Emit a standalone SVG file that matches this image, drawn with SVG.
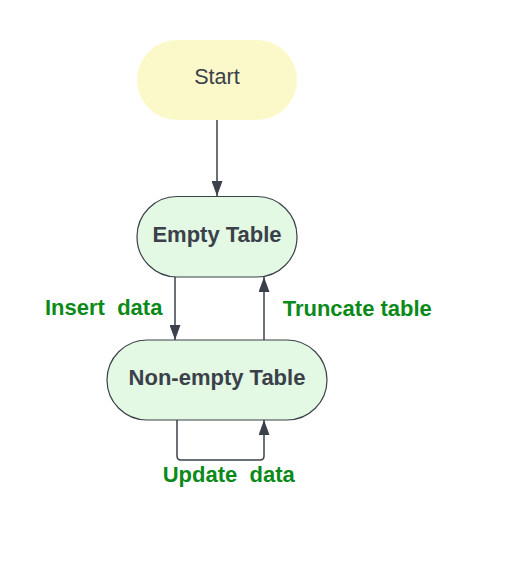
<svg xmlns="http://www.w3.org/2000/svg" width="517" height="561" viewBox="0 0 517 561">
<style>
.node{fill:#e3f9e3;stroke:#3a414a;stroke-width:1.2}
.start{fill:#fbf9c9;stroke:none}
.nt{font-family:"Liberation Sans",Arial,sans-serif;font-size:21.6px;fill:#3a414a;text-anchor:middle}
.b{font-weight:bold;font-size:22px}
.lbl{font-family:"Liberation Sans",Arial,sans-serif;font-size:22px;font-weight:bold;fill:#0b8a1a;white-space:pre}
.edge{fill:none;stroke:#3a414a;stroke-width:1.5}
</style>
<defs>
<marker id="ah" markerUnits="userSpaceOnUse" markerWidth="15" markerHeight="11" viewBox="0 0 15 11" refX="15" refY="5.5" orient="auto">
<path d="M0,0 L15,5.5 L0,11 z" fill="#3a414a"/>
</marker>
</defs>
<rect width="517" height="561" fill="#ffffff"/>
<g id="connectors">
<path class="edge" d="M217,120 V196" marker-end="url(#ah)"/>
<path class="edge" d="M175,277 V340" marker-end="url(#ah)"/>
<path class="edge" d="M264,340 V277" marker-end="url(#ah)"/>
<path class="edge" d="M177,420 V456 Q177,460 181,460 H260 Q264,460 264,456 V420" marker-end="url(#ah)"/>
</g>
<g id="start">
<rect class="start" x="137" y="40" width="160" height="80" rx="40" ry="40"/>
<text class="nt" x="217" y="84.3">Start</text>
</g>
<g id="empty-table">
<rect class="node" x="137" y="196.5" width="160" height="80.5" rx="40" ry="40"/>
<text class="nt b" x="217" y="241.7">Empty Table</text>
</g>
<g id="non-empty-table">
<rect class="node" x="107" y="340" width="220" height="80" rx="40" ry="40"/>
<text class="nt b" x="217" y="385">Non-empty Table</text>
</g>
<g id="labels">
<text class="lbl" x="45" y="315" xml:space="preserve">Insert  data</text>
<text class="lbl" x="282.7" y="315.7">Truncate table</text>
<text class="lbl" x="162.7" y="482.3" xml:space="preserve">Update  data</text>
</g>
</svg>
